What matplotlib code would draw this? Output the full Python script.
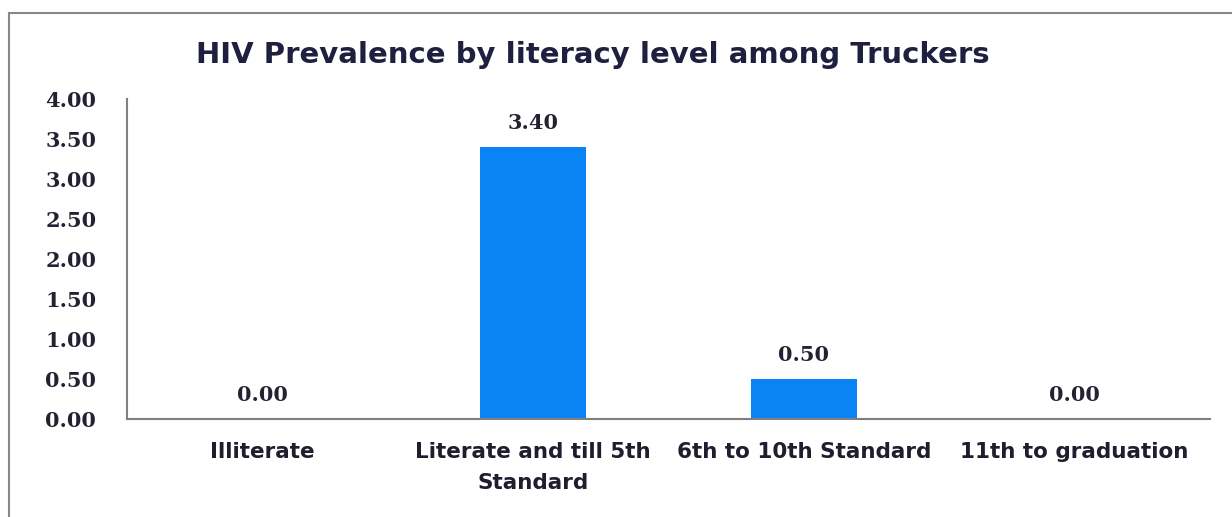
import matplotlib
matplotlib.use("Agg")
import matplotlib.pyplot as plt
from matplotlib.patches import Rectangle

# datos del grafico
categorias = ["Illiterate", "Literate and till 5th\nStandard", "6th to 10th Standard", "11th to graduation"]
valores = [0.00, 3.40, 0.50, 0.00]
marcas_y = [0.0, 0.5, 1.0, 1.5, 2.0, 2.5, 3.0, 3.5, 4.0]

fig = plt.figure(figsize=(12.32, 5.17), dpi=100)
ax = fig.add_axes([0.103, 0.19, 0.879, 0.619])

x = range(len(categorias))
ax.bar(x, valores, width=0.39, color="#0A84F5")

for i, v in zip(x, valores):
    ax.annotate("%.2f" % v, (i, v), xytext=(0, 10), textcoords="offset points",
                ha="center", va="bottom", fontsize=15, family="DejaVu Serif",
                fontweight="bold", color="#222233")

ax.set_xlim(-0.5, len(categorias) - 0.5)
ax.set_ylim(0, 4)
ax.set_yticks(marcas_y)
ax.set_yticklabels(["%.2f" % t for t in marcas_y], family="DejaVu Serif", fontweight="bold",
                   fontsize=15, color="#222233")
ax.set_xticks(list(x))
ax.set_xticklabels(categorias, family="DejaVu Sans", fontweight="bold", fontsize=15.5,
                   color="#1e1e2e", linespacing=1.65)
ax.tick_params(axis="y", length=0, pad=22)
ax.tick_params(axis="x", length=0, pad=17)

for s in ["top", "right"]:
    ax.spines[s].set_visible(False)
for s in ["left", "bottom"]:
    ax.spines[s].set_color("#808080")
    ax.spines[s].set_linewidth(1.5)

fig.text(0.481, 0.894, "HIV Prevalence by literacy level among Truckers", ha="center", va="center",
         family="DejaVu Sans", fontweight="bold", fontsize=21, color="#1F2040")

# marco exterior del grafico
fig.patches.append(Rectangle((0.0073, -0.05), 1.1, 1.0249, transform=fig.transFigure,
                             fill=False, edgecolor="#888888", linewidth=1.5))

fig.savefig("out.png", dpi=100)
